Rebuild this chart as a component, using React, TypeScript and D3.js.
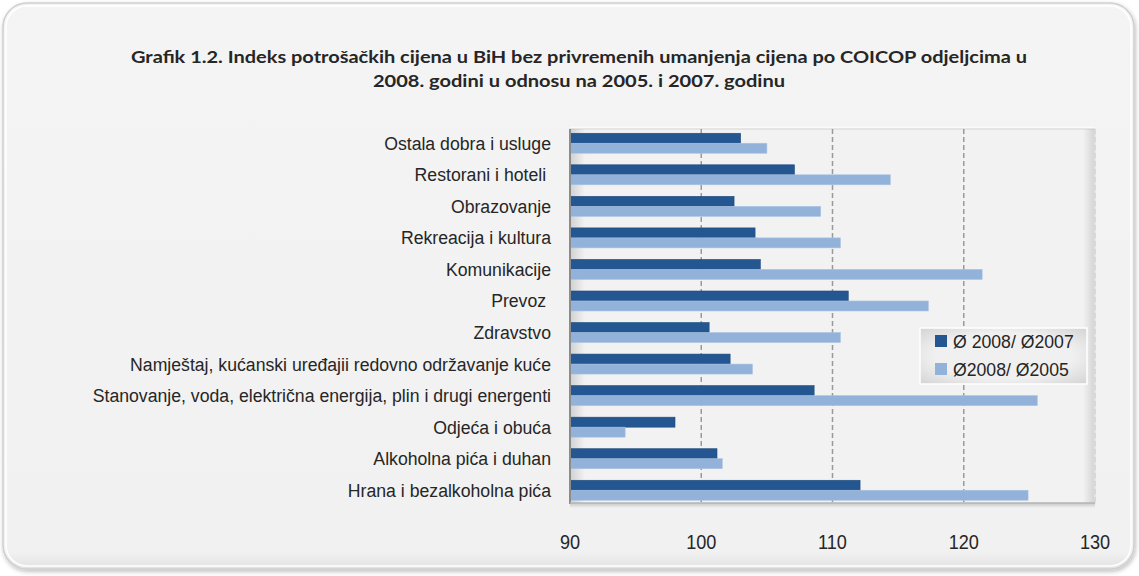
import React from "react";
import * as d3 from "d3";

const categories = [
  "Ostala dobra i usluge",
  "Restorani i hoteli ",
  "Obrazovanje",
  "Rekreacija i kultura",
  "Komunikacije",
  "Prevoz ",
  "Zdravstvo",
  "Namještaj, kućanski uređajii redovno održavanje kuće",
  "Stanovanje, voda, električna energija, plin i drugi energenti",
  "Odjeća i obuća",
  "Alkoholna pića i duhan",
  "Hrana i bezalkoholna pića",
];
const series0807 = [103.0, 107.1, 102.5, 104.1, 104.5, 111.2, 100.6, 102.2, 108.6, 98.0, 101.2, 112.1];
const series0805 = [105.0, 114.4, 109.1, 110.6, 121.4, 117.3, 110.6, 103.9, 125.6, 94.2, 101.6, 124.9];
const seriesNames = ["Ø 2008/ Ø2007", "Ø2008/ Ø2005"];
const xTicks = [90, 100, 110, 120, 130];
const titleLines = [
  "Grafik 1.2. Indeks potrošačkih cijena u BiH bez privremenih umanjenja cijena po COICOP odjeljcima u",
  "2008. godini u odnosu na 2005. i 2007. godinu",
];

const W = 1139;
const H = 576;
const plot = { left: 570, right: 1095, top: 129, bottom: 503 };
const colors = ["#245791", "#93b2d9"];
const font = "'Liberation Sans', Arial, sans-serif";
const SQ = 0.93; // horizontal condensing of the label font

function NText(props: { x: number; y: number; anchor?: string; size: number; children: React.ReactNode }) {
  return (
    <g transform={`translate(${props.x},${props.y}) scale(${SQ},1)`}>
      <text
        x={0}
        y={0}
        textAnchor={props.anchor || "start"}
        fontFamily={font}
        fontSize={props.size}
        fill="#262626"
        style={{ whiteSpace: "pre" }}
      >
        {props.children}
      </text>
    </g>
  );
}

export default function App() {
  const x = d3.scaleLinear().domain([90, 130]).range([plot.left, plot.right]);
  const y = d3
    .scaleBand<string>()
    .domain(categories)
    .range([127.5, 506])
    .paddingInner(0.367)
    .paddingOuter(0.183);
  const sub = d3.scaleBand<number>().domain([0, 1]).range([0, y.bandwidth()]);
  const seriesList = [series0807, series0805];

  return (
    <svg
      width={W}
      height={H}
      style={{ position: "absolute", left: 0, top: 0, background: "#ffffff" }}
    >
      <defs>
        <linearGradient id="leftShadow" x1="0" x2="1" y1="0" y2="0">
          <stop offset="0" stopColor="#000" stopOpacity="0.13" />
          <stop offset="1" stopColor="#000" stopOpacity="0" />
        </linearGradient>
        <linearGradient id="rightShadow" x1="0" x2="1" y1="0" y2="0">
          <stop offset="0" stopColor="#000" stopOpacity="0" />
          <stop offset="1" stopColor="#000" stopOpacity="0.12" />
        </linearGradient>
        <linearGradient id="bottomShadow" x1="0" x2="0" y1="0" y2="1">
          <stop offset="0" stopColor="#000" stopOpacity="0.18" />
          <stop offset="1" stopColor="#000" stopOpacity="0" />
        </linearGradient>
        <radialGradient id="legendGrad" cx="0.5" cy="0.5" r="0.75">
          <stop offset="0.55" stopColor="#f0f0f0" />
          <stop offset="1" stopColor="#cfcfcf" />
        </radialGradient>
        <filter id="frameShadow" x="-5%" y="-5%" width="110%" height="110%">
          <feDropShadow dx="1" dy="2" stdDeviation="2" floodColor="#000" floodOpacity="0.25" />
        </filter>
        <linearGradient id="frameEdge" x1="0" x2="0" y1="0" y2="1">
          <stop offset="0" stopColor="#f4f4f4" />
          <stop offset="0.97" stopColor="#f1f1f1" />
          <stop offset="1" stopColor="#e2e2e2" />
        </linearGradient>
      </defs>

      {/* outer frame */}
      <rect
        x={3}
        y={3}
        width={1131}
        height={566}
        rx={24}
        ry={24}
        fill="url(#frameEdge)"
        stroke="#cfcfcf"
        strokeWidth={1.5}
        filter="url(#frameShadow)"
      />
      <rect x={6} y={6} width={1125} height={560} rx={21} ry={21} fill="none" stroke="#ffffff" strokeWidth={1.5} />

      {/* title */}
      {titleLines.map((t, i) => (
        <text
          key={i}
          x={579}
          y={63 + i * 24}
          textAnchor="middle"
          fontFamily="Lato, 'Open Sans', sans-serif"
          fontWeight={700}
          fontSize={17}
          fill="#262626"
          textLength={i === 0 ? 896 : 412}
          lengthAdjust="spacingAndGlyphs"
        >
          {t}
        </text>
      ))}

      {/* plot area */}
      <line x1={plot.left} x2={plot.right} y1={plot.top - 1.5} y2={plot.top - 1.5} stroke="#fbfbfb" strokeWidth={1.5} />
      <rect
        x={plot.left}
        y={plot.top}
        width={plot.right - plot.left}
        height={plot.bottom - plot.top}
        fill="#f2f2f2"
        stroke="#d6d6d6"
        strokeWidth={1}
      />
      <rect x={plot.left + 1} y={plot.top} width={14} height={plot.bottom - plot.top} fill="url(#leftShadow)" />
      <rect x={plot.right - 12} y={plot.top} width={11} height={plot.bottom - plot.top} fill="url(#rightShadow)" />
      <rect x={plot.left} y={plot.bottom} width={plot.right - plot.left} height={5} fill="url(#bottomShadow)" />

      {/* gridlines */}
      {xTicks
        .filter((t) => t > 90)
        .map((t) => (
          <line
            key={t}
            x1={x(t)}
            x2={x(t)}
            y1={plot.top}
            y2={plot.bottom}
            stroke={t === 130 ? "#cdcdcd" : "#999999"}
            strokeWidth={t === 130 ? 1 : 1.5}
            strokeDasharray="5,3"
          />
        ))}

      {/* bars */}
      {seriesList.map((vals, si) => (
        <g key={si}>
          {categories.map((c, i) => {
            const v = vals[i];
            const y0 = (y(c) as number) + (sub(si) as number);
            return (
              <rect
                key={c}
                x={x(90)}
                y={y0}
                width={x(v) - x(90)}
                height={sub.bandwidth()}
                fill={colors[si]}
                stroke={si === 0 ? "#1d4a7d" : "#a9c2e2"}
                strokeWidth={0.6}
              />
            );
          })}
        </g>
      ))}

      {/* axis lines */}
      <line x1={plot.left} x2={plot.left} y1={plot.top} y2={plot.bottom + 1} stroke="#8c8c8c" strokeWidth={2} />
      <line x1={plot.left} x2={plot.right} y1={plot.bottom} y2={plot.bottom} stroke="#b8b8b8" strokeWidth={1.5} />

      {/* category labels */}
      {categories.map((c) => (
        <NText key={c} x={551} y={(y(c) as number) + y.bandwidth() / 2 + 6.5} anchor="end" size={19}>
          {c}
        </NText>
      ))}

      {/* tick labels */}
      {xTicks.map((t) => (
        <NText key={t} x={x(t)} y={549} anchor="middle" size={19.5}>
          {t}
        </NText>
      ))}

      {/* legend */}
      <g>
        <rect x={920} y={328} width={167} height={56} fill="url(#legendGrad)" stroke="#ffffff" strokeWidth={1.5} />
        {seriesNames.map((n, i) => (
          <g key={n}>
            <rect x={935} y={335 + i * 28} width={12} height={12} fill={colors[i]} />
            <NText x={953} y={348 + i * 28} size={19}>
              {n}
            </NText>
          </g>
        ))}
      </g>
    </svg>
  );
}
